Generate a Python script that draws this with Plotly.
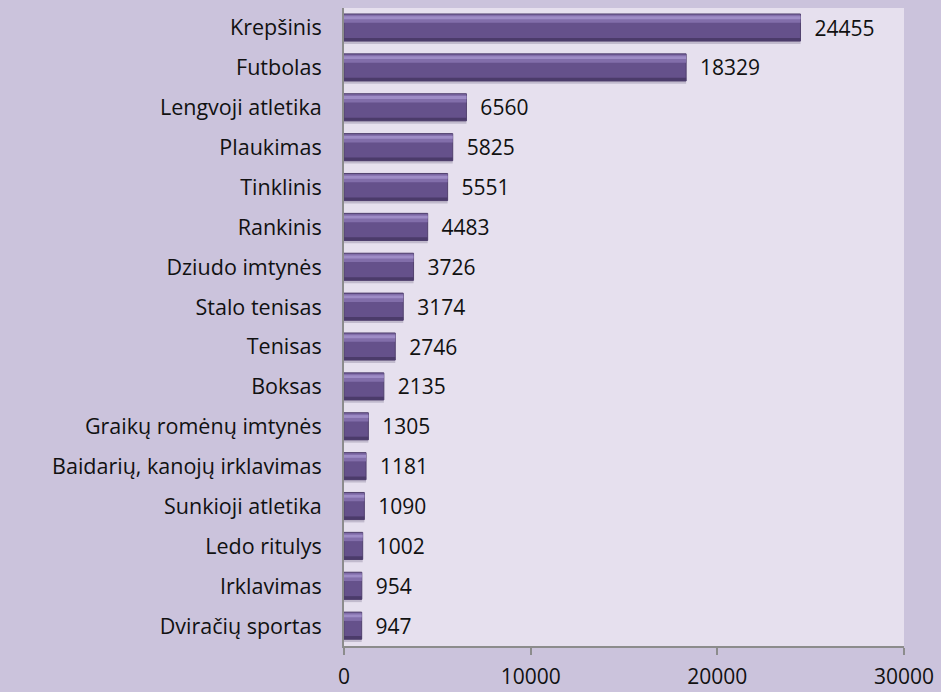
import plotly.graph_objects as go

categories = ["Krepšinis", "Futbolas", "Lengvoji atletika", "Plaukimas", "Tinklinis",
              "Rankinis", "Dziudo imtynės", "Stalo tenisas", "Tenisas", "Boksas",
              "Graikų romėnų imtynės", "Baidarių, kanojų irklavimas", "Sunkioji atletika",
              "Ledo ritulys", "Irklavimas", "Dviračių sportas"]
values = [24455, 18329, 6560, 5825, 5551, 4483, 3726, 3174, 2746, 2135,
          1305, 1181, 1090, 1002, 954, 947]
x_ticks = [0, 10000, 20000, 30000]

font_main = "'Open Sans', Lato, sans-serif"

fig = go.Figure()
# shadow under bars
fig.add_trace(go.Bar(y=categories, x=values, orientation="h", width=0.7, offset=-0.3,
                     marker=dict(color="rgba(110,100,130,0.30)", line=dict(width=0)),
                     hoverinfo="skip", showlegend=False))
# main bar
fig.add_trace(go.Bar(y=categories, x=values, orientation="h", width=0.68, offset=-0.35,
                     marker=dict(color="#65518b", line=dict(color="#52426f", width=1)),
                     text=["\u00a0\u00a0" + str(v) for v in values], textposition="outside",
                     constraintext="none",
                     textfont=dict(family=font_main, size=21, color="#111111"),
                     cliponaxis=False, showlegend=False))
# top highlight
fig.add_trace(go.Bar(y=categories, x=values, orientation="h", width=0.2, offset=-0.33,
                     marker=dict(color="#826eaa", line=dict(width=0)),
                     hoverinfo="skip", showlegend=False))
fig.add_trace(go.Bar(y=categories, x=values, orientation="h", width=0.07, offset=-0.29,
                     marker=dict(color="#9e8cc6", line=dict(width=0)),
                     hoverinfo="skip", showlegend=False))
# bottom dark edge
fig.add_trace(go.Bar(y=categories, x=values, orientation="h", width=0.08, offset=0.25,
                     marker=dict(color="#4b3b6a", line=dict(width=0)),
                     hoverinfo="skip", showlegend=False))

fig.update_layout(
    width=941, height=692,
    margin=dict(l=344, r=37, t=8, b=46),
    paper_bgcolor="#cbc3dc",
    plot_bgcolor="#e6e0ee",
    barmode="overlay",
    font=dict(family=font_main, size=21, color="#111111"),
    xaxis=dict(range=[0, 30000], tickvals=x_ticks, ticktext=[str(t) for t in x_ticks],
               showgrid=False, zeroline=False, showline=True, linecolor="#8c8c8c",
               linewidth=2, ticks="outside", ticklen=7, tickcolor="#8c8c8c", tickwidth=2,
               ticklabelstandoff=4, tickfont=dict(size=21), automargin=False),
    yaxis=dict(autorange="reversed", showgrid=False, zeroline=False, showline=True,
               linecolor="#8c8c8c", linewidth=2, ticks="", ticklabelstandoff=16,
               tickfont=dict(size=21.5), automargin=False),
)

fig.write_html("out.html", config={"displayModeBar": False},
               post_script="document.body.style.margin='0';document.body.style.overflow='hidden';")
